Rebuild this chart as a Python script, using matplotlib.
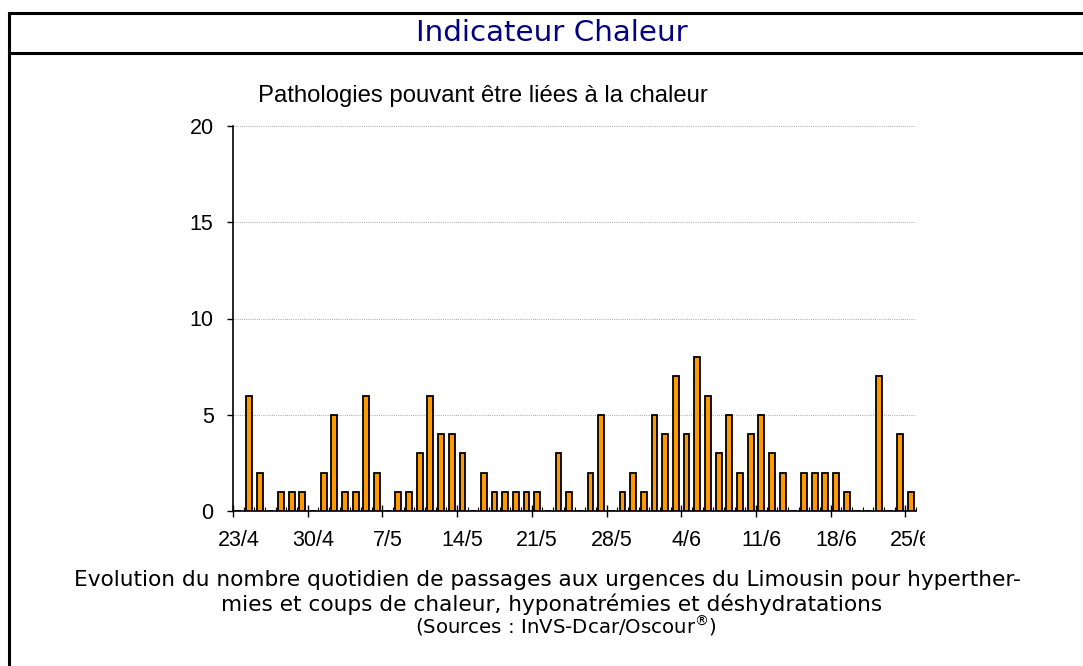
import matplotlib
matplotlib.use('Agg')
import matplotlib.pyplot as plt
from matplotlib.lines import Line2D
from matplotlib.transforms import Bbox, TransformedBbox
import numpy as np
import pandas as pd

# ---- data ----
dates = pd.date_range('2010-04-23', '2010-06-25', freq='D')
categories = [f"{d.day}/{d.month}" for d in dates]
values = [0, 6, 2, 0, 1, 1, 1, 0, 2, 5,
          1, 1, 6, 2, 0, 1, 1, 3, 6, 4,
          4, 3, 0, 2, 1, 1, 1, 1, 1, 0,
          3, 1, 0, 2, 5, 0, 1, 2, 1, 5,
          4, 7, 4, 8, 6, 3, 5, 2, 4, 5,
          3, 2, 0, 2, 2, 2, 2, 1, 0, 0,
          7, 0, 4, 1]
label_step = 7
tick_labels = categories[::label_step]
y_ticks = [0, 5, 10, 15, 20]

title = "Indicateur Chaleur"
subtitle = "Pathologies pouvant être liées à la chaleur"
caption1 = "Evolution du nombre quotidien de passages aux urgences du Limousin pour hyperther-"
caption2 = "mies et coups de chaleur, hyponatrémies et déshydratations"
caption3 = "(Sources : InVS-Dcar/Oscour$^{®}$)"

W, H = 1083, 666
fig = plt.figure(figsize=(W / 100, H / 100), dpi=100)
fig.patch.set_facecolor('white')

ax = fig.add_axes([233 / W, 1 - 511 / H, (916 - 233) / W, (511 - 126) / H])
x = np.arange(len(categories))
ax.bar(x, values, width=0.55, color='#FF9900', edgecolor='black', linewidth=1.3, zorder=3)
ax.set_xlim(-0.5, len(categories) - 0.5)
ax.set_ylim(0, 20)
ax.set_yticks(y_ticks)
ax.yaxis.grid(True, linestyle=(0, (1.0, 1.2)), color='#a8a8a8', linewidth=0.7, zorder=0)
ax.set_axisbelow(True)
for s in ['top', 'right']:
    ax.spines[s].set_visible(False)
for s in ['left', 'bottom']:
    ax.spines[s].set_linewidth(1.2)
ax.tick_params(axis='y', direction='out', length=4, width=1, pad=10, labelsize=15.5,
               labelfontfamily='Liberation Sans')
ax.set_xticks(np.arange(-0.5, len(categories), label_step))
ax.set_xticks(np.arange(-0.5, len(categories), 1), minor=True)
ax.tick_params(axis='x', which='major', direction='inout', length=9, width=1, labelbottom=False)
ax.tick_params(axis='x', which='minor', direction='in', length=3, width=0.8)

sec = ax.secondary_xaxis('bottom')
sec.set_xticks(x[::label_step], labels=tick_labels)
sec.tick_params(length=0, pad=14, labelsize=15.5, labelfontfamily='Liberation Sans')
sec.spines['bottom'].set_visible(False)

# frame lines
lw = 2.2
fig.add_artist(Line2D([9 / W, 9 / W], [0, 1 - 13 / H], transform=fig.transFigure, color='black', lw=lw))
fig.add_artist(Line2D([9 / W, 1], [1 - 13 / H, 1 - 13 / H], transform=fig.transFigure, color='black', lw=lw))
fig.add_artist(Line2D([9 / W, 1], [1 - 53 / H, 1 - 53 / H], transform=fig.transFigure, color='black', lw=lw))

t_title = fig.text(552 / W, 1 - 33 / H, title, color='#000080', ha='center', va='center',
                   fontsize=20, family='DejaVu Sans')
t_sub = fig.text(258 / W, 1 - 96 / H, subtitle, ha='left', va='center', fontsize=14,
                 family='Liberation Sans')
t_c1 = fig.text(547 / W, 1 - 580 / H, caption1, ha='center', va='center', fontsize=14, family='DejaVu Sans')
t_c2 = fig.text(552 / W, 1 - 604 / H, caption2, ha='center', va='center', fontsize=14, family='DejaVu Sans')
t_c3 = fig.text(566 / W, 1 - 626 / H, caption3, ha='center', va='center', fontsize=11, family='DejaVu Sans')

fig.canvas.draw()
r = fig.canvas.get_renderer()


def fit(t, w):
    for _ in range(3):
        bb = t.get_window_extent(r)
        t.set_fontsize(t.get_fontsize() * w / bb.width)


fit(t_title, 271)
fit(t_sub, 450)
fit(t_c1, 945)
fit(t_c2, 661)
fit(t_c3, 302)

clip = TransformedBbox(Bbox([[0, 0], [925 / W, 1]]), fig.transFigure)
for lab in sec.get_xticklabels():
    lab.set_clip_on(True)
    lab.set_clip_box(clip)

fig.savefig('out.png', dpi=100, facecolor='white')
